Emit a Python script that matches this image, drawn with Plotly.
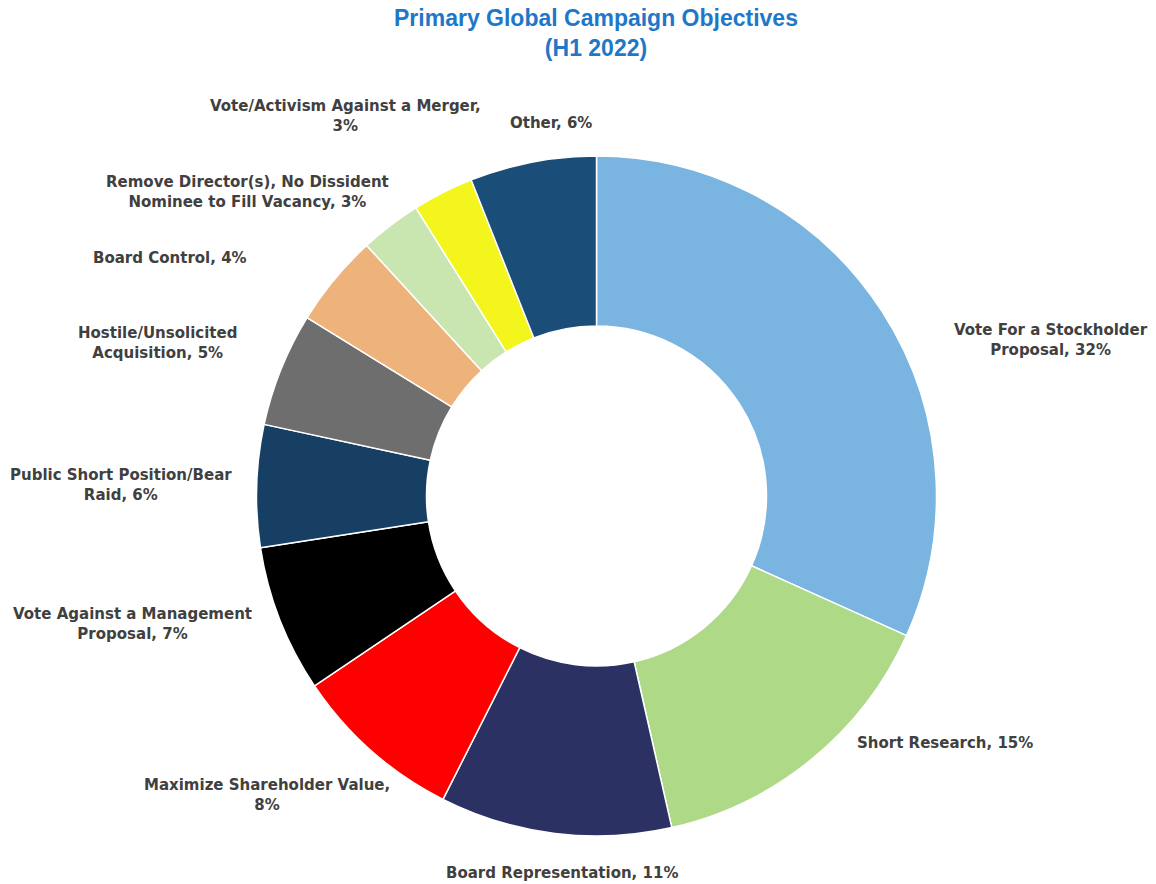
import plotly.graph_objects as go

# ---- data ----
categories = [
    "Vote For a Stockholder Proposal",
    "Short Research",
    "Board Representation",
    "Maximize Shareholder Value",
    "Vote Against a Management Proposal",
    "Public Short Position/Bear Raid",
    "Hostile/Unsolicited Acquisition",
    "Board Control",
    "Remove Director(s), No Dissident Nominee to Fill Vacancy",
    "Vote/Activism Against a Merger",
    "Other",
]
# shares (%); labels show them rounded
shares = [31.7, 14.7, 11.0, 8.1, 7.0, 5.8, 5.4, 4.4, 2.9, 2.9, 6.0]
# how each category label is wrapped in the reference
label_text = [
    "Vote For a Stockholder<br>Proposal",
    "Short Research",
    "Board Representation",
    "Maximize Shareholder Value,<br>",
    "Vote Against a Management<br>Proposal",
    "Public Short Position/Bear<br>Raid",
    "Hostile/Unsolicited<br>Acquisition",
    "Board Control",
    "Remove Director(s), No Dissident<br>Nominee to Fill Vacancy",
    "Vote/Activism Against a Merger,<br>",
    "Other",
]

# ---- styles ----
colors = ["#7AB5E2", "#AED987", "#2B3163", "#FF0000", "#000000", "#173F63",
          "#6E6E6E", "#EEB37A", "#C9E6B1", "#F5F51E", "#1A4D77"]
W, H = 1156, 884
# label centre positions in pixels (layout only)
label_pos = [(1051, 340), (945, 743), (562, 873), (267, 795), (132, 624),
             (121, 485), (157, 343), (170, 258), (247, 192), (345, 116),
             (551, 123)]

cx, cy, r = 596.5, 496, 340

fig = go.Figure()
fig.add_trace(go.Pie(
    labels=categories,
    values=shares,
    sort=False,
    direction="clockwise",
    rotation=0,
    hole=0.5,
    marker=dict(colors=colors, line=dict(color="white", width=1.5)),
    textinfo="none",
    showlegend=False,
    domain=dict(x=[(cx - r) / W, (cx + r) / W], y=[1 - (cy + r) / H, 1 - (cy - r) / H]),
))

for txt, val, (px, py) in zip(label_text, shares, label_pos):
    pct = f"{round(val)}%"
    full = f"{txt}{pct}" if txt.endswith("<br>") else f"{txt}, {pct}"
    fig.add_annotation(
        text=f"<b>{full}</b>", x=px / W, y=1 - py / H, xref="paper", yref="paper",
        xanchor="center", yanchor="middle", showarrow=False, align="center",
        font=dict(family="DejaVu Sans", size=15, color="#404040"),
    )

fig.update_layout(
    width=W, height=H,
    margin=dict(l=0, r=0, t=0, b=0),
    paper_bgcolor="white", plot_bgcolor="white",
    title=dict(
        text="<b>Primary Global Campaign Objectives<br>(H1 2022)</b>",
        x=596 / W, xanchor="center", xref="paper",
        y=1 - 26 / H, yanchor="middle", yref="container",
        font=dict(family="Liberation Sans, Arial", size=23, color="#1F77C8"),
    ),
)

fig.write_html("out.html")
